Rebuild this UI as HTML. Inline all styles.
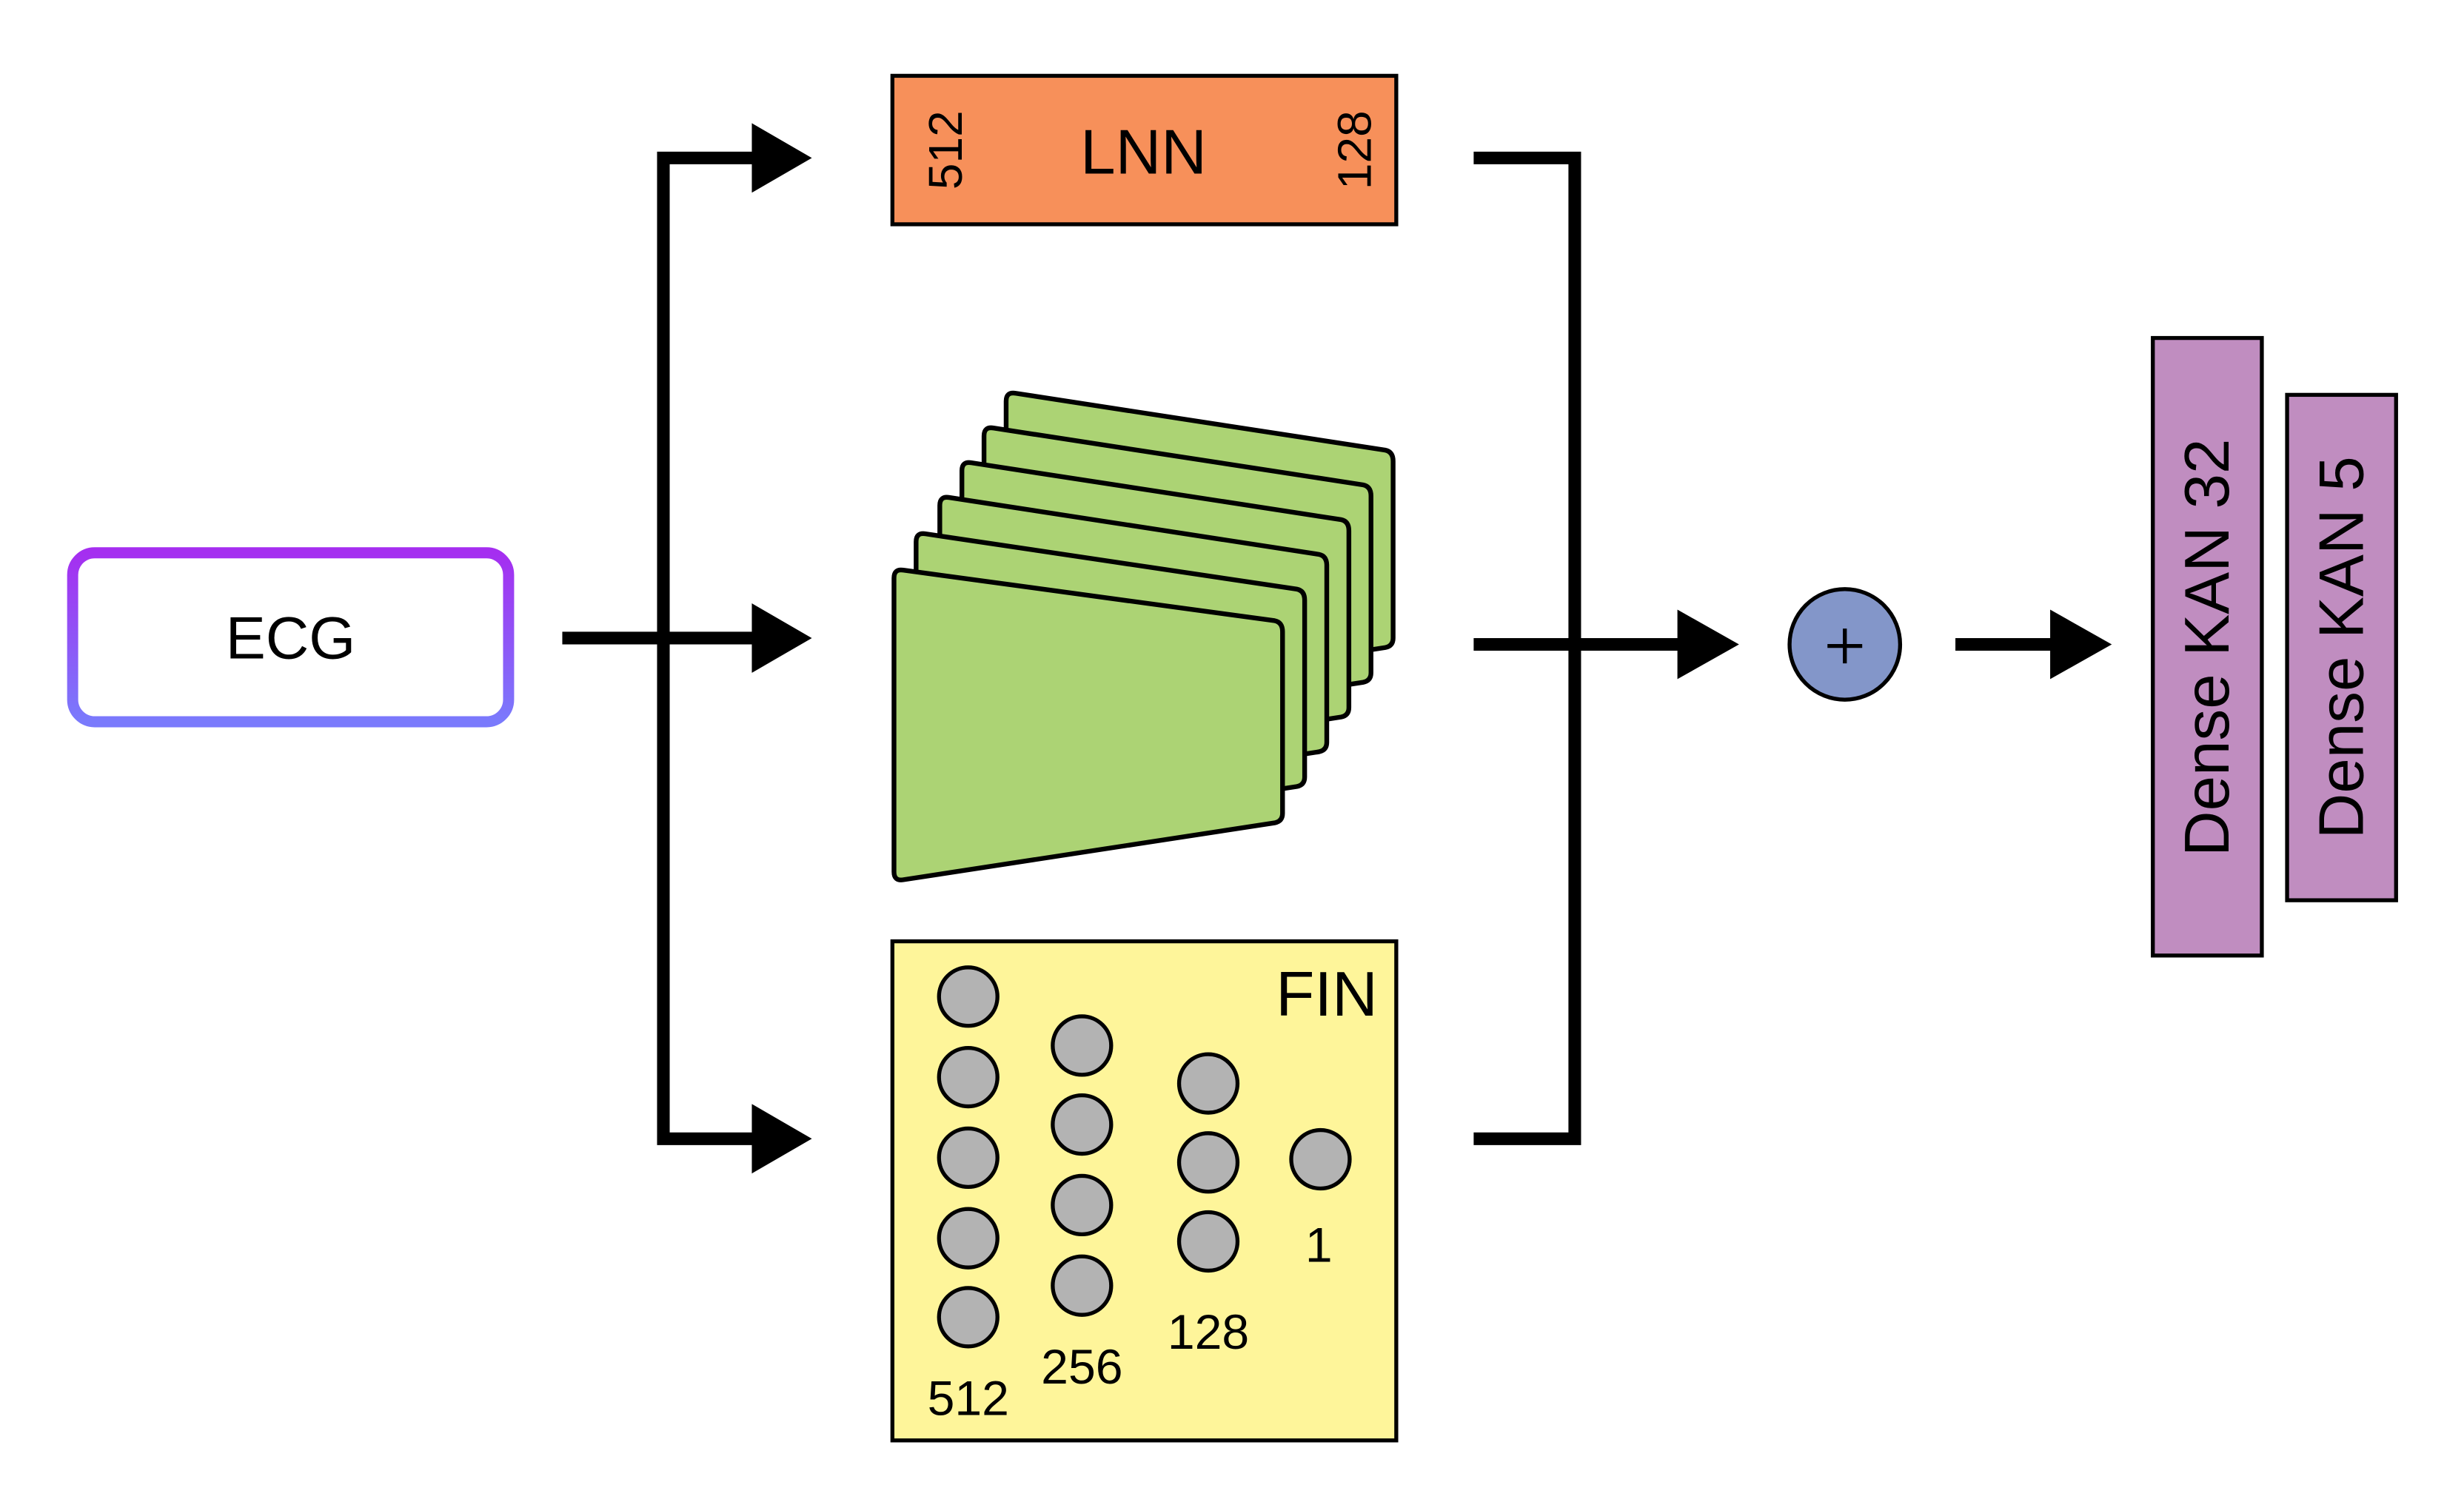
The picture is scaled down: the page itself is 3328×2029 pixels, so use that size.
<!DOCTYPE html>
<html><head><meta charset="utf-8"><style>
html,body{margin:0;padding:0;background:#fff;}
svg{display:block;}
text{font-family:"Liberation Sans",sans-serif;fill:#000;}
</style></head><body>
<svg width="3328" height="2029" viewBox="0 0 1560 951" preserveAspectRatio="none">
<defs>
<linearGradient id="g" x1="0" y1="0" x2="0" y2="1">
<stop offset="0" stop-color="#a52ef0"/><stop offset="1" stop-color="#7a7afc"/>
</linearGradient>
</defs>
<rect x="0" y="0" width="1560" height="951" fill="#fff"/>
<rect x="46" y="350" width="276" height="107" rx="14" fill="#fff" stroke="url(#g)" stroke-width="7"/>
<text x="184" y="417" font-size="38" text-anchor="middle">ECG</text>
<g stroke="#000" stroke-width="8" fill="none">
<path d="M356 404 H480"/>
<path d="M480 100 H420 V721 H480"/>
<path d="M933 100 H997 V721 H933"/>
<path d="M933 408 H1064"/>
<path d="M1238 408 H1300"/>
</g>
<g fill="#000">
<polygon points="476,78 514,100 476,122"/>
<polygon points="476,382 514,404 476,426"/>
<polygon points="476,699 514,721 476,743"/>
<polygon points="1062,386 1101,408 1062,430"/>
<polygon points="1298,386 1337,408 1298,430"/>
</g>
<rect x="565" y="48" width="319" height="94" fill="#f7905a" stroke="#000" stroke-width="2.5"/>
<text x="724" y="110" font-size="40" text-anchor="middle">LNN</text>
<text transform="translate(609,95) rotate(-90)" font-size="30" text-anchor="middle">512</text>
<text transform="translate(868,95) rotate(-90)" font-size="30" text-anchor="middle">128</text>
<g fill="#acd374" stroke="#000" stroke-width="3" stroke-linejoin="round">
<path d="M637,254 Q637,248 643,249 L877,285 Q882,286 882,292 V404 Q882,409 877,410 L643,446 Q637,447 637,441 Z"/>
<path d="M623,276 Q623,270 629,271 L863,307 Q868,308 868,314 V426 Q868,431 863,432 L629,468 Q623,469 623,463 Z"/>
<path d="M609,298 Q609,292 615,293 L849,329 Q854,330 854,336 V448 Q854,453 849,454 L615,490 Q609,491 609,485 Z"/>
<path d="M595,320 Q595,314 601,315 L835,351 Q840,352 840,358 V470 Q840,475 835,476 L601,512 Q595,513 595,507 Z"/>
<path d="M580,343 Q580,337 586,338 L821,373 Q826,374 826,380 V492 Q826,497 821,498 L586,534 Q580,535 580,529 Z"/>
<path d="M566,366 Q566,360 572,361 L807,393 Q812,394 812,400 V515 Q812,520 807,521 L572,557 Q566,558 566,552 Z"/>
</g>
<rect x="565" y="596" width="319" height="316" fill="#fef59a" stroke="#000" stroke-width="2.5"/>
<text x="840" y="643" font-size="40" text-anchor="middle">FIN</text>
<g fill="#b3b3b3" stroke="#000" stroke-width="2.5">
<circle cx="613" cy="631" r="18.5"/><circle cx="613" cy="682" r="18.5"/><circle cx="613" cy="733" r="18.5"/><circle cx="613" cy="784" r="18.5"/><circle cx="613" cy="834" r="18.5"/>
<circle cx="685" cy="662" r="18.5"/><circle cx="685" cy="712" r="18.5"/><circle cx="685" cy="763" r="18.5"/><circle cx="685" cy="814" r="18.5"/>
<circle cx="765" cy="686" r="18.5"/><circle cx="765" cy="736" r="18.5"/><circle cx="765" cy="786" r="18.5"/>
<circle cx="836" cy="734" r="18.5"/>
</g>
<g font-size="31" text-anchor="middle">
<text x="613" y="896">512</text>
<text x="685" y="876">256</text>
<text x="765" y="854">128</text>
<text x="835" y="799">1</text>
</g>
<circle cx="1168" cy="408" r="35" fill="#8396c9" stroke="#000" stroke-width="2.5"/>
<g stroke="#000" stroke-width="2.5"><path d="M1157 409 H1179 M1168 398 V420"/></g>
<rect x="1363" y="214" width="69" height="391" fill="#c08dc0" stroke="#000" stroke-width="2.5"/>
<rect x="1448" y="250" width="69" height="320" fill="#c08dc0" stroke="#000" stroke-width="2.5"/>
<text transform="translate(1411,410) rotate(-90)" font-size="40" text-anchor="middle">Dense KAN 32</text>
<text transform="translate(1496,410) rotate(-90)" font-size="40" text-anchor="middle">Dense KAN 5</text>
</svg>
</body></html>
